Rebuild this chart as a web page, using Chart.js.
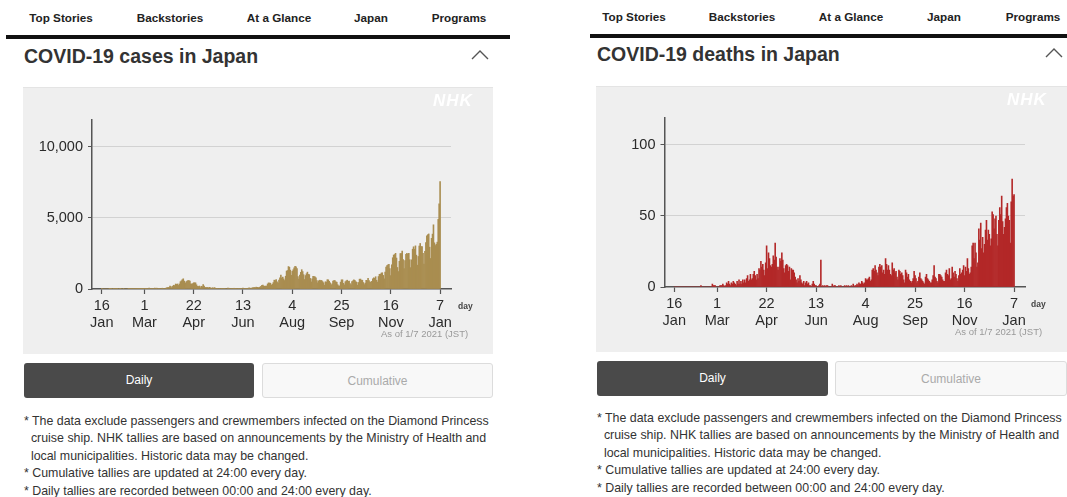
<!DOCTYPE html>
<html>
<head>
<meta charset="utf-8">
<script src="https://cdn.jsdelivr.net/npm/chart.js@4.4.1/dist/chart.umd.min.js"></script>
<style>
  body { margin:0; width:1067px; height:497px; background:#fff; overflow:hidden;
         font-family:"Liberation Sans", Arial, Helvetica, sans-serif; color:#333; }
  .abs { position:absolute; }
  .nav { font-size:11.7px; font-weight:bold; color:#222; transform:translateX(-50%); white-space:nowrap; line-height:14px; }
  .bar { height:4px; background:#111; }
  .title { font-size:19.5px; font-weight:bold; color:#333; line-height:20px; white-space:nowrap; }
  .box { background:#efefef; border-top:1px solid #e4e4e4; }
  .btn { font-size:12px; text-align:center; line-height:35px; border-radius:3px; box-sizing:border-box; }
  .daily { background:#4a4a4a; color:#fff; }
  .cum { background:#f8f8f8; color:#aaa; border:1px solid #dcdcdc; }
  .note { font-size:12.4px; line-height:17.4px; color:#333; white-space:pre; }
  .day { font-size:8.5px; font-weight:bold; color:#444; }
  .asof { font-size:9.5px; color:#999; white-space:nowrap; }
  .nhk { font-size:17px; font-weight:bold; font-style:italic; color:#fff; letter-spacing:1px; }
  canvas { position:absolute; left:0; top:0; }
</style>
</head>
<body>
<script>
// day 0 = 16 Jan 2020, last day = 7 Jan 2021
const tickDays = [0, 45, 97, 149, 201, 253, 305, 357];
const tickLabels = [['16','Jan'], ['1','Mar'], ['22','Apr'], ['13','Jun'], ['4','Aug'], ['25','Sep'], ['16','Nov'], ['7','Jan']];
const caseTicks = [0, 5000, 10000];
const deathTicks = [0, 50, 100];

// one row per week, Thu..Wed
const dailyCases = [
  1,0,0,0,0,0,0,
  0,1,1,1,0,1,3,
  2,4,1,2,0,1,2,
  0,0,1,0,0,0,0,
  4,5,6,11,2,7,8,
  10,10,12,4,4,12,12,
  20,21,11,15,10,16,33,
  31,58,43,45,26,28,52,
  56,40,60,37,15,29,33,
  39,55,40,33,38,67,93,
  98,123,200,173,88,203,265,
  235,351,324,355,252,352,515,
  576,658,720,557,391,505,549,
  585,585,566,370,348,377,439,
  436,431,295,194,176,210,85,
  192,164,305,203,124,87,123,
  96,82,117,64,56,91,55,
  99,54,44,25,35,28,36,
  27,25,29,14,21,35,38,
  70,54,43,32,29,43,50,
  51,48,40,34,19,45,41,
  54,40,72,47,29,40,44,
  42,70,74,35,57,87,96,
  105,100,131,112,86,117,127,
  194,250,270,208,195,205,207,
  355,430,418,407,259,333,450,
  622,595,664,510,417,630,795,
  981,770,839,707,598,901,1264,
  1301,1580,1536,1330,963,1242,1355,
  1486,1605,1565,1440,879,692,986,
  1177,1360,1227,1010,670,946,1075,
  1188,1030,1010,745,496,714,885,
  880,850,790,586,436,578,620,
  595,601,523,441,269,510,484,
  653,646,544,426,269,361,554,
  600,600,513,478,300,220,212,
  483,645,647,399,291,513,573,
  621,540,564,383,290,521,576,
  637,613,522,471,267,459,691,
  698,618,620,456,307,414,617,
  598,746,600,490,482,541,711,
  790,751,863,616,487,878,1037,
  1036,1121,1144,958,709,1186,1546,
  1653,1705,1737,1439,950,1705,2202,
  2388,2427,2510,2178,1516,1230,1953,
  2495,2503,2678,2063,1431,2003,2433,
  2510,2445,2508,2062,1504,2055,2805,
  2973,2802,3038,2384,1675,2290,3025,
  3207,2993,2990,2506,1746,2661,3265,
  3740,3823,3877,2945,2150,3568,3865,
  4520,3250,3060,3150,3300,4900,6000,
  7570
];

const dailyDeaths = [
  0,0,0,0,0,0,0,
  0,0,0,0,0,0,0,
  0,0,0,0,0,0,0,
  0,0,0,0,0,0,0,
  1,0,0,0,0,0,0,
  0,0,0,0,0,2,1,
  1,1,0,0,0,0,1,
  1,1,2,1,0,1,3,
  2,4,2,1,3,2,4,
  3,2,1,4,2,5,2,
  4,2,5,3,5,3,6,
  8,4,5,9,5,6,9,
  11,8,5,9,6,13,12,
  18,14,16,12,8,17,29,
  13,24,20,15,14,16,22,
  19,31,21,14,12,14,20,
  18,24,19,13,10,15,16,
  15,11,14,5,13,12,12,
  10,7,5,3,6,4,8,
  5,3,2,4,1,3,4,
  2,3,1,1,0,2,4,
  2,1,1,0,0,1,2,
  19,0,1,0,1,0,1,
  1,0,0,0,0,2,0,
  1,1,0,0,0,1,0,
  1,0,0,0,1,0,1,
  0,1,0,0,1,0,2,
  0,1,1,2,1,3,2,
  2,4,3,2,3,6,5,
  5,6,7,4,5,12,13,
  11,15,12,10,8,14,16,
  14,15,10,12,9,20,16,
  12,15,12,9,8,17,12,
  13,10,11,7,5,12,11,
  9,10,8,5,3,12,10,
  7,9,5,4,3,4,6,
  11,8,6,3,4,7,10,
  6,5,4,3,2,7,9,
  6,5,4,3,3,5,8,
  15,7,6,4,3,9,9,
  8,7,5,4,4,10,12,
  9,8,13,5,6,14,10,
  7,11,9,6,4,8,13,
  9,10,12,15,8,14,11,
  20,13,9,10,14,29,31,
  20,31,24,14,17,41,33,
  45,27,35,24,30,40,47,
  33,40,37,29,34,53,51,
  41,48,50,37,29,47,56,
  51,64,46,37,42,48,56,
  59,50,47,31,60,76,64,
  65
];
</script>

<!-- left screen -->
<div class="abs nav" style="left:61px;top:11px">Top Stories</div>
<div class="abs nav" style="left:170px;top:11px">Backstories</div>
<div class="abs nav" style="left:279px;top:11px">At a Glance</div>
<div class="abs nav" style="left:371px;top:11px">Japan</div>
<div class="abs nav" style="left:459px;top:11px">Programs</div>
<div class="abs bar" style="left:6px;top:35px;width:504px"></div>
<div class="abs title" style="left:24px;top:46px">COVID-19 cases in Japan</div>
<svg class="abs" style="left:468px;top:46px" width="24" height="16"><polyline points="4,13 12,5 20,13" fill="none" stroke="#555" stroke-width="1.4"/></svg>
<div class="abs box" style="left:23px;top:87px;width:470px;height:266px">
  <canvas id="casesChart" width="470" height="265"></canvas>
  <div class="abs nhk" style="left:410px;top:3px">NHK</div>
  <div class="abs day" style="left:435px;top:213px">day</div>
  <div class="abs asof" style="left:358px;top:240px">As of 1/7 2021 (JST)</div>
</div>
<div class="abs btn daily" style="left:24px;top:363px;width:230px;height:35px">Daily</div>
<div class="abs btn cum" style="left:262px;top:363px;width:231px;height:35px">Cumulative</div>
<div class="abs note" style="left:24px;top:413px">* The data exclude passengers and crewmembers infected on the Diamond Princess
  cruise ship. NHK tallies are based on announcements by the Ministry of Health and
  local municipalities. Historic data may be changed.
* Cumulative tallies are updated at 24:00 every day.
* Daily tallies are recorded between 00:00 and 24:00 every day.</div>

<!-- right screen -->
<div class="abs nav" style="left:634px;top:10px">Top Stories</div>
<div class="abs nav" style="left:742px;top:10px">Backstories</div>
<div class="abs nav" style="left:851px;top:10px">At a Glance</div>
<div class="abs nav" style="left:944px;top:10px">Japan</div>
<div class="abs nav" style="left:1033px;top:10px">Programs</div>
<div class="abs bar" style="left:590px;top:34px;width:477px"></div>
<div class="abs title" style="left:597px;top:44px">COVID-19 deaths in Japan</div>
<svg class="abs" style="left:1042px;top:44px" width="24" height="16"><polyline points="4,13 12,5 20,13" fill="none" stroke="#555" stroke-width="1.4"/></svg>
<div class="abs box" style="left:596px;top:86px;width:471px;height:265px">
  <canvas id="deathsChart" width="471" height="264"></canvas>
  <div class="abs nhk" style="left:411px;top:3px">NHK</div>
  <div class="abs day" style="left:435px;top:212px">day</div>
  <div class="abs asof" style="left:359px;top:239px">As of 1/7 2021 (JST)</div>
</div>
<div class="abs btn daily" style="left:597px;top:361px;width:231px;height:35px">Daily</div>
<div class="abs btn cum" style="left:835px;top:361px;width:232px;height:35px">Cumulative</div>
<div class="abs note" style="left:597px;top:410px">* The data exclude passengers and crewmembers infected on the Diamond Princess
  cruise ship. NHK tallies are based on announcements by the Ministry of Health and
  local municipalities. Historic data may be changed.
* Cumulative tallies are updated at 24:00 every day.
* Daily tallies are recorded between 00:00 and 24:00 every day.</div>

<script>
Chart.defaults.font.family = '"Liberation Sans", Arial, Helvetica, sans-serif';

function drawDaily(id, values, color, yMax, yTicks, axisW, padTop, xAxisH) {
  var points = values.map(function (v, i) { return { x: i, y: v }; });
  return new Chart(document.getElementById(id), {
    type: 'bar',
    data: {
      datasets: [{
        data: points,
        backgroundColor: color,
        borderWidth: 0,
        barPercentage: 1,
        categoryPercentage: 1
      }]
    },
    options: {
      responsive: false,
      animation: false,
      devicePixelRatio: 1,
      layout: { padding: { top: padTop, right: 42, left: 0, bottom: 0 } },
      plugins: { legend: { display: false }, tooltip: { enabled: false } },
      scales: {
        x: {
          type: 'linear',
          offset: false,
          min: -10.3,
          max: 368.5,
          afterBuildTicks: function (s) { s.ticks = tickDays.map(function (d) { return { value: d }; }); },
          afterFit: function (s) { s.height = xAxisH; },
          grid: { drawOnChartArea: false, offset: false, tickLength: 5, tickColor: '#555', tickWidth: 1.2 },
          border: { color: '#555', width: 1.5 },
          ticks: {
            autoSkip: false, maxRotation: 0, padding: 3, color: '#2b2b2b',
            font: { size: 14.5 },
            callback: function (v, i) { return tickLabels[i]; }
          }
        },
        y: {
          min: 0,
          max: yMax,
          afterBuildTicks: function (s) { s.ticks = yTicks.map(function (t) { return { value: t }; }); },
          afterFit: function (s) { s.width = axisW; },
          grid: {
            color: function (c) { return c.tick && c.tick.value === 0 ? 'rgba(0,0,0,0)' : '#d2d2d2'; },
            tickColor: '#555', tickLength: 4, lineWidth: 1
          },
          border: { color: '#555', width: 1.5 },
          ticks: { padding: 5, color: '#2b2b2b', font: { size: 14.5 } }
        }
      }
    }
  });
}

drawDaily('casesChart', dailyCases, '#a98d50', 11900, caseTicks, 69, 32, 64);
drawDaily('deathsChart', dailyDeaths, '#b32828', 119, deathTicks, 68.5, 31, 64);
</script>
</body>
</html>
